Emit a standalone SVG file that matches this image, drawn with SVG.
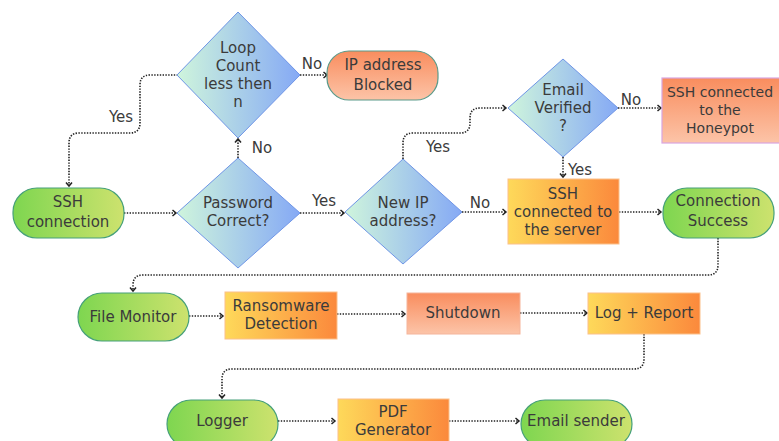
<svg xmlns="http://www.w3.org/2000/svg" width="779" height="441" viewBox="0 0 779 441">
<defs>
<linearGradient id="gDia" x1="0" y1="0" x2="1" y2="0"><stop offset="0" stop-color="#cff5dc"/><stop offset="1" stop-color="#85a9f5"/></linearGradient>
<linearGradient id="gGreen" x1="0" y1="0" x2="1" y2="0"><stop offset="0" stop-color="#7ed650"/><stop offset="1" stop-color="#cde26e"/></linearGradient>
<linearGradient id="gYO" x1="0" y1="0" x2="1" y2="0"><stop offset="0" stop-color="#fed95a"/><stop offset="1" stop-color="#fb893c"/></linearGradient>
<linearGradient id="gSal" x1="0" y1="0" x2="0" y2="1"><stop offset="0" stop-color="#f98d5e"/><stop offset="1" stop-color="#fcc4a8"/></linearGradient>
<marker id="arr" markerWidth="8" markerHeight="8" refX="5" refY="4" orient="auto" markerUnits="userSpaceOnUse"><path d="M1.5,1 L5,4 L1.5,7" fill="none" stroke="#222" stroke-width="1.5"/></marker>
</defs>
<style>
text{font-family:"DejaVu Sans","Liberation Sans",sans-serif;font-size:15px;fill:#3b3b3b;text-anchor:middle;dominant-baseline:central}
.sm{font-size:14px}
.dia{fill:url(#gDia);stroke:#6f95e6;stroke-width:1}
.grn{fill:url(#gGreen);stroke:#46a07a;stroke-width:1.2}
.yo{fill:url(#gYO);stroke:#fbc08a;stroke-width:1}
.sal{fill:url(#gSal);stroke:#f5b49a;stroke-width:1}
.ipb{fill:url(#gSal);stroke:#5a9a8a;stroke-width:1.2}
.hp{fill:url(#gSal);stroke:#d9a6e0;stroke-width:1.2}
.c{fill:none;stroke:#222;stroke-width:1.6;stroke-dasharray:1.4 1.4;marker-end:url(#arr)}
</style>
<rect width="779" height="441" fill="#ffffff"/>
<g id="connectors">
<path class="c" d="M178,75 H150 Q140,75 140,85 V123 Q140,133 130,133 H79 Q69,133 69,143 V186"/>
<path class="c" d="M300,75 H327"/>
<path class="c" d="M238,158 V139"/>
<path class="c" d="M124,213 H176"/>
<path class="c" d="M300,213 H344"/>
<path class="c" d="M462,212 H506"/>
<path class="c" d="M403,159 V143 Q403,133 413,133 H460 Q470,133 470,123 V118 Q470,108 480,108 H506"/>
<path class="c" d="M618,108 H661"/>
<path class="c" d="M563,157 V177"/>
<path class="c" d="M619,212 H661"/>
<path class="c" d="M718,238 V265 Q718,275 708,275 H143 Q133,275 133,285 V291"/>
<path class="c" d="M189,316 H223"/>
<path class="c" d="M337,314 H405"/>
<path class="c" d="M520,313 H587"/>
<path class="c" d="M644,334 V359 Q644,369 634,369 H232 Q222,369 222,379 V398"/>
<path class="c" d="M278,421 H335"/>
<path class="c" d="M449,421 H519"/>
<text x="121" y="117">Yes</text>
<text x="312" y="64">No</text>
<text x="262" y="148">No</text>
<text x="324" y="201">Yes</text>
<text x="480" y="203">No</text>
<text x="438" y="147">Yes</text>
<text x="631" y="100">No</text>
<text x="580" y="170">Yes</text>
</g>
<g id="loop"><path class="dia" d="M238,12 L300,75 L238,138 L177,75 Z"/><text x="238" y="48">Loop</text><text x="238" y="66">Count</text><text x="238" y="84">less then</text><text x="238" y="102">n</text></g>
<g id="ipblocked"><rect class="ipb" x="327" y="51" width="111" height="49" rx="22"/><text x="383" y="65">IP address</text><text x="383" y="85">Blocked</text></g>
<g id="email"><path class="dia" d="M563,59 L618,108 L563,157 L508,108 Z"/><text x="563" y="90">Email</text><text x="563" y="108">Verified</text><text x="563" y="126">?</text></g>
<g id="honeypot"><rect class="hp" x="662" y="78" width="125" height="65"/><text class="sm" x="720" y="92">SSH connected</text><text class="sm" x="720" y="110">to the</text><text class="sm" x="720" y="128">Honeypot</text></g>
<g id="sshconn"><rect class="grn" x="13" y="188" width="111" height="50" rx="24"/><text x="68" y="202">SSH</text><text x="68" y="222">connection</text></g>
<g id="password"><path class="dia" d="M238,158 L300,213 L238,268 L177,213 Z"/><text x="238" y="203">Password</text><text x="238" y="221">Correct?</text></g>
<g id="newip"><path class="dia" d="M403,159 L462,212 L403,264 L345,212 Z"/><text x="403" y="203">New IP</text><text x="403" y="221">address?</text></g>
<g id="server"><rect class="yo" x="508" y="179" width="111" height="65"/><text x="563" y="194">SSH</text><text x="563" y="212">connected to</text><text x="563" y="230">the server</text></g>
<g id="success"><rect class="grn" x="663" y="188" width="111" height="50" rx="24"/><text x="718" y="201">Connection</text><text x="718" y="221">Success</text></g>
<g id="filemon"><rect class="grn" x="78" y="293" width="111" height="48" rx="24"/><text x="133" y="317">File Monitor</text></g>
<g id="ransom"><rect class="yo" x="225" y="292" width="112" height="47"/><text x="281" y="306">Ransomware</text><text x="281" y="324">Detection</text></g>
<g id="shutdown"><rect class="sal" x="407" y="293" width="113" height="41"/><text x="463" y="313">Shutdown</text></g>
<g id="logreport"><rect class="yo" x="588" y="293" width="112" height="41"/><text x="644" y="313">Log + Report</text></g>
<g id="logger"><rect class="grn" x="167" y="400" width="111" height="48" rx="24"/><text x="222" y="421">Logger</text></g>
<g id="pdf"><rect class="yo" x="338" y="399" width="111" height="50"/><text x="393" y="412">PDF</text><text x="393" y="430">Generator</text></g>
<g id="emailsender"><rect class="grn" x="521" y="400" width="111" height="48" rx="24"/><text x="576" y="421">Email sender</text></g>
</svg>
